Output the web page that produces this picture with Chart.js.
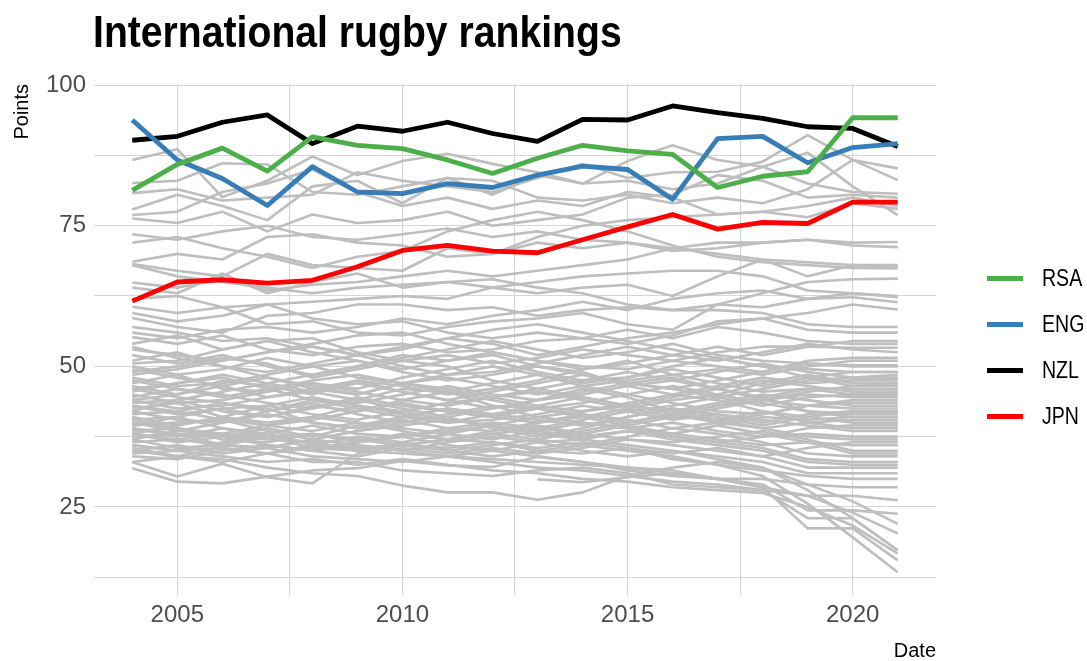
<!DOCTYPE html>
<html>
<head>
<meta charset="utf-8">
<title>International rugby rankings</title>
<script src="https://cdn.jsdelivr.net/npm/chart.js@4.4.0/dist/chart.umd.min.js"></script>
<style>
  html, body { margin: 0; padding: 0; background: #fff; }
  #wrap { position: relative; width: 1087px; height: 661px; font-family: "Liberation Sans", Arial, sans-serif; }
  #title { position: absolute; left: 93px; top: 7px; font-size: 44px; font-weight: bold; color: #000; white-space: nowrap; line-height: 50px; transform: scaleX(0.89); transform-origin: left center; }
  #legend { position: absolute; left: 987px; top: 255px; }
  .item { height: 46px; display: flex; align-items: center; font-size: 23px; color: #000; }
  .key { width: 36px; height: 5px; margin-right: 19px; }
  .lab { display: inline-block; transform: scaleX(0.85); transform-origin: left center; }
  canvas { position: absolute; left: 0; top: 0; }
</style>
</head>
<body>
<div id="wrap">
  <canvas id="chart" width="1087" height="661"></canvas>
  <div id="title">International rugby rankings</div>
  <div id="legend"></div>
</div>
<script>
// years on the x axis
const years = [2004, 2005, 2006, 2007, 2008, 2009, 2010, 2011, 2012, 2013, 2014, 2015, 2016, 2017, 2018, 2019, 2020, 2021];

// highlighted teams
const RSA = [81.3, 85.9, 88.8, 84.7, 90.8, 89.3, 88.7, 86.7, 84.3, 87.0, 89.3, 88.3, 87.7, 81.8, 83.8, 84.6, 94.2, 94.2];
const ENG = [93.8, 86.7, 83.4, 78.6, 85.5, 81.0, 80.7, 82.5, 81.8, 84.0, 85.6, 85.0, 79.7, 90.5, 90.9, 86.2, 88.9, 89.6];
const NZL = [90.2, 90.9, 93.4, 94.7, 89.6, 92.7, 91.8, 93.4, 91.4, 90.0, 93.9, 93.8, 96.3, 95.1, 94.1, 92.6, 92.3, 89.1];
const JPN = [61.6, 65.0, 65.4, 64.8, 65.3, 67.7, 70.6, 71.5, 70.5, 70.2, 72.5, 74.8, 77.0, 74.4, 75.6, 75.4, 79.2, 79.2];

const highlight = [
  { label: 'RSA', values: RSA, color: '#4DAF4A' },
  { label: 'ENG', values: ENG, color: '#377EB8' },
  { label: 'NZL', values: NZL, color: '#000000' },
  { label: 'JPN', values: JPN, color: '#FF0000' }
];

// all other teams (grey)
const g01 = [86.7, 88.6, 80.1, 83.0, 87.3, 84.0, 86.5, 87.8, 86.0, 84.5, 82.5, 86.5, 89.3, 86.7, 85.5, 82.5, 81.0, 80.7];
const g02 = [82.6, 83.0, 86.1, 85.9, 81.0, 80.5, 82.0, 83.5, 83.0, 80.0, 79.5, 80.5, 79.0, 80.0, 79.0, 81.5, 86.7, 85.2];
const g03 = [80.8, 81.5, 79.5, 80.0, 80.5, 84.5, 83.0, 82.0, 81.0, 83.5, 86.0, 83.5, 84.5, 84.6, 86.4, 91.1, 86.7, 83.1];
const g04 = [77.9, 80.5, 78.5, 76.0, 82.0, 83.0, 79.0, 83.5, 80.5, 84.0, 82.5, 83.0, 81.5, 82.5, 85.5, 88.0, 82.0, 76.9];
const g05 = [76.9, 77.5, 81.0, 82.5, 85.0, 81.0, 78.5, 80.0, 78.0, 79.5, 78.5, 81.0, 80.0, 77.0, 77.5, 78.5, 80.0, 78.5];
const g06 = [76.3, 75.5, 77.5, 74.0, 77.0, 75.5, 76.0, 77.5, 75.0, 76.0, 77.0, 80.0, 80.5, 84.0, 83.0, 80.0, 80.5, 80.0];
const g07 = [73.5, 72.5, 74.0, 75.0, 73.0, 72.5, 73.5, 74.5, 73.0, 74.0, 72.5, 72.0, 70.5, 71.0, 72.0, 72.5, 71.5, 71.2];
const g08 = [72.0, 73.0, 71.0, 69.5, 67.5, 69.5, 70.5, 74.0, 76.0, 77.5, 76.0, 74.0, 71.5, 69.5, 68.5, 68.0, 67.5, 67.4];
const g09 = [68.6, 70.0, 69.0, 73.0, 73.5, 72.0, 71.5, 69.5, 70.0, 73.0, 75.0, 76.0, 76.5, 77.0, 77.5, 76.5, 79.0, 78.0];
const g10 = [68.2, 67.0, 66.0, 70.0, 68.0, 67.5, 67.0, 71.0, 70.0, 72.0, 71.0, 72.0, 71.0, 70.0, 69.0, 68.5, 68.0, 68.0];
const g11 = [64.9, 64.0, 65.5, 63.5, 64.5, 65.0, 66.0, 67.0, 66.0, 67.0, 68.0, 69.0, 71.0, 72.0, 72.0, 72.5, 72.0, 72.1];
const g12 = [62.0, 62.5, 60.5, 61.0, 61.5, 62.0, 62.5, 62.0, 64.0, 63.0, 64.0, 64.5, 62.5, 66.0, 69.0, 66.0, 68.0, 67.8];
const g13 = [64.0, 63.0, 66.5, 63.0, 65.0, 66.5, 64.0, 65.0, 65.5, 64.0, 63.0, 61.0, 60.0, 61.0, 60.5, 62.0, 62.3, 61.4];
const g14 = [68.0, 66.0, 65.0, 64.0, 63.0, 64.0, 64.5, 65.0, 64.0, 65.0, 66.0, 66.5, 67.0, 67.0, 66.0, 63.5, 63.0, 62.3];
const g15 = [60.6, 59.5, 60.5, 57.5, 58.0, 56.0, 55.5, 57.0, 58.0, 58.5, 59.5, 57.5, 56.5, 61.0, 63.0, 65.0, 65.5, 65.6];
const g16 = [59.5, 58.0, 59.0, 61.0, 58.5, 57.5, 58.0, 56.0, 55.0, 56.0, 55.0, 54.0, 55.5, 58.0, 58.5, 59.5, 61.0, 60.1];
const g17 = [58.6, 57.0, 56.0, 59.0, 59.5, 61.0, 61.0, 60.0, 60.5, 59.0, 60.0, 60.5, 60.0, 60.0, 59.5, 57.5, 57.0, 57.0];
const g18 = [56.0, 55.0, 56.5, 57.0, 56.0, 57.0, 58.5, 57.5, 59.0, 60.0, 61.5, 60.0, 62.0, 63.0, 63.5, 62.0, 63.0, 62.5];
const g19 = [55.2, 54.0, 55.5, 53.0, 52.0, 53.5, 54.0, 52.5, 53.0, 54.5, 55.0, 56.5, 55.0, 57.0, 56.0, 54.5, 54.0, 54.0];
const g20 = [54.0, 55.5, 53.0, 54.5, 55.0, 52.5, 51.0, 52.0, 50.5, 51.5, 53.0, 52.0, 51.0, 52.5, 53.5, 53.5, 53.3, 53.3];
const g21 = [53.0, 52.0, 51.0, 52.5, 54.0, 55.5, 56.0, 54.0, 52.5, 51.0, 50.0, 49.5, 51.0, 50.0, 49.0, 51.0, 51.5, 51.5];
const g22 = [52.0, 50.5, 52.0, 50.0, 48.5, 50.0, 51.5, 53.0, 54.5, 53.0, 51.5, 52.5, 54.0, 52.0, 51.0, 50.5, 50.2, 50.2];
const g23 = [51.0, 52.5, 50.0, 49.0, 50.5, 52.0, 50.0, 48.5, 49.0, 50.5, 52.0, 53.5, 52.0, 51.0, 52.5, 54.0, 53.0, 52.5];
const g24 = [50.0, 48.5, 49.5, 51.5, 50.0, 48.0, 47.0, 48.5, 50.0, 48.5, 47.0, 48.0, 49.5, 48.0, 46.5, 48.0, 49.0, 49.0];
const g25 = [49.0, 50.0, 51.5, 50.5, 48.0, 49.5, 51.0, 50.0, 47.5, 46.0, 47.5, 49.0, 47.5, 49.0, 50.5, 49.0, 48.0, 48.0];
const g26 = [48.0, 46.5, 47.0, 48.5, 50.0, 51.0, 49.0, 47.5, 48.5, 50.0, 49.0, 46.5, 45.0, 46.5, 48.0, 47.0, 47.5, 47.5];
const g27 = [47.0, 48.5, 46.0, 45.5, 47.0, 46.0, 48.0, 49.5, 51.0, 49.0, 47.5, 48.0, 50.0, 51.5, 50.0, 48.0, 46.5, 46.5];
const g28 = [46.5, 45.0, 47.5, 46.5, 45.0, 47.5, 46.5, 45.0, 46.0, 47.5, 49.5, 51.0, 48.5, 47.0, 45.5, 46.0, 46.0, 46.0];
const g29 = [46.0, 47.0, 48.0, 46.0, 44.0, 43.5, 45.0, 46.5, 45.0, 44.0, 45.5, 47.0, 46.0, 44.5, 43.0, 44.5, 45.0, 45.0];
const g30 = [45.0, 43.5, 44.0, 45.5, 47.0, 45.5, 44.0, 43.0, 44.5, 46.0, 44.5, 43.0, 44.5, 46.0, 47.5, 46.5, 45.5, 45.5];
const g31 = [44.5, 46.0, 45.0, 43.5, 42.5, 44.0, 46.0, 45.5, 43.0, 42.5, 43.5, 45.0, 43.5, 42.0, 41.5, 43.0, 44.0, 44.0];
const g32 = [44.0, 42.5, 43.0, 44.5, 45.5, 47.0, 45.5, 44.0, 42.5, 44.0, 46.0, 44.5, 42.0, 40.5, 42.0, 41.0, 40.0, 40.0];
const g33 = [43.5, 44.0, 42.0, 41.0, 43.0, 42.0, 43.5, 42.0, 41.0, 42.5, 41.5, 40.0, 41.5, 43.0, 44.0, 45.5, 46.5, 47.0];
const g34 = [43.0, 41.5, 42.5, 43.0, 41.5, 40.5, 42.0, 43.5, 44.5, 43.0, 42.0, 43.5, 45.0, 44.0, 42.0, 40.0, 39.0, 39.0];
const g35 = [42.5, 43.5, 41.0, 40.0, 41.0, 43.0, 41.5, 40.0, 40.5, 41.5, 43.0, 42.0, 40.5, 41.5, 40.5, 39.5, 38.5, 38.5];
const g36 = [42.0, 40.5, 40.0, 42.0, 43.5, 41.5, 40.0, 41.5, 43.0, 41.0, 40.0, 39.0, 40.0, 38.5, 37.5, 38.0, 37.5, 37.5];
const g37 = [41.5, 42.0, 43.5, 42.5, 40.0, 39.0, 40.5, 39.0, 38.5, 40.0, 41.5, 40.5, 39.0, 40.0, 41.5, 43.0, 43.5, 43.5];
const g38 = [41.0, 39.5, 41.0, 39.5, 38.5, 40.0, 39.0, 38.0, 39.5, 38.5, 37.5, 38.5, 38.0, 37.0, 36.0, 36.5, 36.0, 36.0];
const g39 = [40.5, 41.0, 39.0, 38.0, 39.5, 38.0, 37.5, 39.0, 40.0, 39.0, 38.0, 37.0, 36.5, 37.5, 38.5, 37.0, 35.0, 35.0];
const g40 = [40.0, 38.5, 38.0, 39.5, 41.0, 40.0, 38.5, 37.0, 38.0, 37.0, 36.0, 37.5, 39.0, 38.0, 36.5, 34.5, 34.0, 34.0];
const g41 = [39.5, 40.0, 40.5, 38.5, 37.0, 38.5, 40.0, 41.0, 39.0, 37.5, 39.0, 41.0, 42.5, 41.5, 40.0, 41.5, 42.0, 42.0];
const g42 = [39.0, 37.5, 39.0, 37.5, 36.5, 37.0, 36.0, 37.0, 36.5, 35.5, 36.5, 35.5, 34.5, 35.5, 34.0, 32.0, 32.0, 32.0];
const g43 = [38.5, 39.0, 37.0, 36.5, 38.0, 36.5, 37.5, 36.0, 35.0, 36.5, 35.0, 34.0, 35.0, 34.0, 33.0, 31.0, 31.0, 31.0];
const g44 = [38.0, 36.5, 37.5, 38.0, 36.0, 35.5, 36.0, 35.5, 36.5, 35.0, 34.5, 35.5, 33.5, 32.5, 31.5, 30.5, 30.0, 30.0];
const g45 = [37.5, 38.0, 36.0, 35.5, 37.0, 36.0, 35.0, 36.5, 37.5, 36.5, 37.0, 36.0, 35.0, 33.5, 32.0, 29.0, 28.5, 28.5];
const g46 = [37.0, 35.5, 36.0, 37.5, 35.5, 35.0, 36.5, 38.0, 37.0, 38.5, 40.0, 39.0, 38.0, 39.5, 41.0, 40.5, 41.0, 41.0];
const g47 = [36.5, 37.0, 38.0, 36.0, 35.0, 36.5, 38.0, 37.0, 38.5, 39.5, 38.0, 39.5, 41.0, 42.5, 44.0, 45.0, 44.5, 44.5];
const g48 = [36.0, 35.0, 35.5, 34.5, 36.0, 37.5, 36.5, 35.0, 36.0, 37.0, 38.5, 40.0, 41.5, 40.0, 39.0, 40.0, 40.5, 40.5];
const g49 = [35.0, 36.0, 34.5, 35.5, 37.0, 38.5, 39.5, 40.5, 39.5, 38.0, 37.5, 38.5, 37.5, 36.5, 37.5, 39.0, 39.5, 39.5];
const g50 = [34.5, 35.0, 36.5, 37.5, 38.0, 37.0, 36.0, 37.0, 38.0, 39.0, 40.5, 42.0, 43.0, 44.5, 46.0, 47.5, 48.0, 48.5];
const g51 = [34.0, 33.5, 35.0, 36.0, 35.0, 34.0, 35.5, 34.5, 35.5, 34.5, 35.5, 37.0, 36.0, 35.0, 34.0, 35.5, 36.5, 36.5];
const g52 = [33.0, 34.0, 33.0, 34.5, 35.5, 36.5, 37.5, 38.5, 39.5, 41.0, 42.0, 43.0, 42.0, 43.5, 45.0, 44.0, 43.0, 43.0];
const g53 = [57.0, 56.0, 54.5, 55.0, 53.5, 52.0, 53.0, 55.0, 56.5, 57.5, 56.0, 54.5, 53.0, 51.5, 50.0, 49.5, 49.0, 49.0];
const g54 = [48.5, 49.5, 51.0, 52.5, 53.5, 52.0, 53.5, 55.0, 54.0, 52.0, 53.5, 55.0, 56.0, 57.5, 58.5, 56.5, 56.0, 56.0];
const g55 = [45.5, 47.0, 48.5, 47.0, 48.5, 50.0, 52.0, 51.0, 52.5, 51.0, 49.5, 50.5, 52.0, 53.5, 52.0, 53.5, 54.5, 54.5];
const g56 = [53.5, 51.5, 50.0, 48.0, 46.5, 45.0, 47.0, 46.0, 44.5, 45.5, 44.0, 42.5, 41.0, 40.5, 39.0, 37.5, 37.0, 37.0];
const g57 = [50.5, 51.0, 53.0, 54.5, 52.5, 51.0, 49.5, 51.0, 52.0, 50.0, 48.5, 47.0, 48.0, 46.0, 44.5, 42.0, 41.5, 41.5];
const g58 = [47.5, 46.0, 44.5, 46.0, 47.5, 48.5, 47.0, 45.5, 47.0, 48.5, 46.5, 45.0, 46.5, 45.0, 47.0, 48.5, 47.0, 47.0];
const g59 = [42.0, 44.0, 45.5, 47.0, 45.5, 44.0, 42.5, 41.0, 42.5, 44.0, 45.0, 46.5, 47.5, 46.0, 44.0, 43.0, 42.5, 42.5];
const g60 = [39.5, 41.0, 42.5, 41.0, 42.5, 44.5, 43.0, 42.0, 41.0, 40.0, 41.0, 42.5, 44.0, 45.0, 43.5, 42.0, 41.0, 41.0];
const g61 = [37.0, 38.5, 40.0, 41.5, 40.0, 39.0, 41.0, 42.5, 41.5, 43.0, 44.5, 43.0, 41.5, 43.0, 44.5, 46.0, 45.0, 45.0];
const g62 = [44.0, 45.0, 46.5, 44.5, 46.0, 45.0, 47.0, 48.0, 46.5, 45.0, 46.5, 47.5, 48.5, 49.5, 48.5, 50.0, 51.0, 51.0];
const g63 = [46.0, 44.5, 43.5, 42.0, 44.0, 42.5, 41.0, 42.5, 41.5, 40.5, 39.5, 41.0, 42.5, 41.0, 39.5, 41.0, 42.0, 42.0];
const g64 = [40.5, 39.0, 37.5, 39.0, 37.5, 39.5, 41.0, 40.0, 41.5, 42.5, 41.0, 39.5, 38.0, 39.5, 38.0, 36.5, 34.5, 34.5];
const g65 = [49.5, 48.0, 46.5, 48.0, 46.0, 47.5, 45.5, 44.0, 45.5, 47.0, 48.5, 47.0, 46.0, 47.5, 49.0, 50.5, 50.0, 50.0];
const g66 = [43.0, 42.0, 40.5, 39.5, 40.5, 42.0, 44.0, 45.5, 44.0, 42.5, 41.0, 39.5, 37.5, 36.5, 35.5, 33.5, 33.0, 33.0];
const g67 = [38.0, 39.5, 41.0, 43.0, 44.5, 43.0, 42.0, 40.5, 39.5, 38.0, 37.0, 38.5, 37.0, 36.0, 35.0, 33.0, 32.5, 32.5];
const g68 = [33.0, 30.4, 32.7, 30.3, 29.2, 34.5, 36.0, 35.0, 34.0, 35.0, 36.0, 35.0, 34.0, 32.5, 30.5, 25.6, 19.6, 13.4];
const g69 = [31.9, 29.5, 29.2, 30.4, 31.5, 31.9, 33.2, 32.4, 32.1, 33.9, 33.0, 32.0, 31.5, 30.0, 28.5, 21.2, 21.2, 15.5];
const g70 = [35.5, 34.0, 33.5, 32.0, 31.0, 30.5, 28.8, 27.6, 27.6, 26.3, 27.6, 30.5, 32.0, 33.0, 32.0, 28.0, 23.0, 17.3];
const g71 = [null, null, null, null, null, null, null, null, null, 29.9, 29.4, 30.3, 31.0, 30.0, 28.5, 27.0, 27.0, 26.2];
const g72 = [40.0, 39.0, 38.0, 37.0, 36.5, 35.0, 34.5, 34.0, 33.5, 33.0, 32.5, 32.0, 31.0, 30.0, 29.0, 24.4, 24.4, 23.8];
const g73 = [38.0, 37.0, 36.0, 35.5, 34.0, 33.5, 33.0, 34.0, 33.0, 32.0, 31.5, 30.5, 29.5, 29.0, 28.0, 23.0, 23.0, 17.3];
const g74 = [36.0, 35.0, 34.0, 33.0, 33.5, 32.5, 33.5, 32.5, 31.5, 31.0, 30.0, 29.5, 28.5, 28.0, 27.5, 25.0, 21.7, 16.7];
const g75 = [39.0, 38.0, 37.5, 36.0, 35.0, 36.0, 35.0, 34.0, 35.0, 34.0, 33.0, 31.5, 30.5, 30.0, 30.0, 29.0, 26.0, 22.0];
const g76 = [35.0, 34.0, 35.5, 34.5, 33.0, 33.0, 31.5, 31.0, 30.5, 31.5, 32.0, 31.0, 29.0, 28.5, 28.0, 27.0, 24.0, 20.3];

const greyTeams = [g01, g02, g03, g04, g05, g06, g07, g08, g09, g10, g11, g12, g13, g14, g15, g16, g17, g18, g19, g20,
  g21, g22, g23, g24, g25, g26, g27, g28, g29, g30, g31, g32, g33, g34, g35, g36, g37, g38, g39, g40,
  g41, g42, g43, g44, g45, g46, g47, g48, g49, g50, g51, g52, g53, g54, g55, g56, g57, g58, g59, g60,
  g61, g62, g63, g64, g65, g66, g67, g68, g69, g70, g71, g72, g73, g74, g75, g76];

// grid positions (major and minor)
const xTicks = [2005, 2007.5, 2010, 2012.5, 2015, 2017.5, 2020];
const yTicks = [12.5, 25, 37.5, 50, 62.5, 75, 87.5, 100];

const FONT = '"Liberation Sans", Arial, sans-serif';

function toPoints(values) {
  return values.map((v, i) => ({ x: years[i], y: v }));
}

const datasets = [];
highlight.forEach(t => {
  datasets.push({
    label: t.label,
    data: toPoints(t.values),
    borderColor: t.color,
    borderWidth: 4.8,
    pointRadius: 0,
    borderJoinStyle: 'round'
  });
});
greyTeams.forEach((vals, i) => {
  datasets.push({
    label: 'other' + i,
    data: toPoints(vals),
    borderColor: '#BEBEBE',
    borderWidth: 2.6,
    pointRadius: 0,
    borderJoinStyle: 'round'
  });
});

// legend
const legendEl = document.getElementById('legend');
highlight.forEach(t => {
  const row = document.createElement('div');
  row.className = 'item';
  row.innerHTML = '<span class="key" style="background:' + t.color + '"></span><span class="lab">' + t.label + '</span>';
  legendEl.appendChild(row);
});

new Chart(document.getElementById('chart'), {
  type: 'line',
  data: { datasets: datasets },
  options: {
    responsive: false,
    animation: false,
    events: [],
    layout: { padding: { top: 84, right: 151, bottom: 0, left: 0 } },
    plugins: {
      legend: { display: false },
      tooltip: { enabled: false }
    },
    scales: {
      x: {
        type: 'linear',
        min: 2003.15,
        max: 2021.85,
        afterBuildTicks: s => { s.ticks = xTicks.map(v => ({ value: v })); },
        afterFit: s => { s.height = 66; },
        grid: { color: '#D6D6D6', lineWidth: 1.1, drawTicks: false },
        border: { display: false },
        ticks: {
          autoSkip: false,
          maxRotation: 0,
          padding: 6,
          color: '#4D4D4D',
          font: { family: FONT, size: 24 },
          callback: v => (v % 5 === 0 ? String(v) : '')
        },
        title: {
          display: true,
          text: 'Date',
          align: 'end',
          color: '#000',
          font: { family: FONT, size: 20, lineHeight: 1 },
          padding: { top: 0, bottom: 0 }
        }
      },
      y: {
        min: 9.35,
        max: 100.2,
        afterBuildTicks: s => { s.ticks = yTicks.map(v => ({ value: v })); },
        afterFit: s => { s.width = 94; },
        grid: { color: '#D6D6D6', lineWidth: 1.1, drawTicks: false },
        border: { display: false },
        ticks: {
          autoSkip: false,
          padding: 8,
          color: '#4D4D4D',
          font: { family: FONT, size: 24 },
          callback: v => (v % 25 === 0 ? String(v) : '')
        },
        title: {
          display: true,
          text: 'Points',
          align: 'end',
          color: '#000',
          font: { family: FONT, size: 20, lineHeight: 1 },
          padding: { top: 12, bottom: 0 }
        }
      }
    }
  }
});
</script>
</body>
</html>
